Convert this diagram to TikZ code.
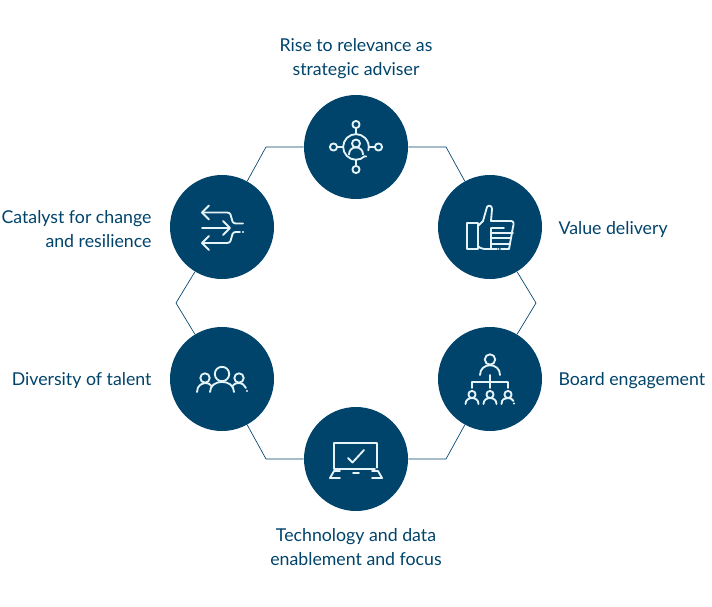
\documentclass[tikz,border=0pt]{standalone}
\usepackage{fontspec}
\setmainfont{Lato}
\usetikzlibrary{positioning}
\definecolor{stageblue}{HTML}{00436B}
\definecolor{iconline}{HTML}{E4F3F7}
\tikzset{
  stagenode/.style={circle,fill=stageblue,minimum size=78pt,inner sep=0pt},
  stagelabel/.style={text=stageblue,font=\fontsize{13.3}{17.5}\selectfont,inner sep=0pt},
  stageedge/.style={stageblue,line width=0.5pt},
  iconstroke/.style={iconline,line width=1.4pt,line cap=round,line join=round}
}
\begin{document}
\begin{tikzpicture}[x=0.75pt,y=-0.75pt]
  \useasboundingbox (0,0) rectangle (712,606);
  \node[stagenode] (rise) at (356,147) {};
  \node[stagenode] (value) at (490,227) {};
  \node[stagenode] (board) at (490,379) {};
  \node[stagenode] (tech) at (356,459) {};
  \node[stagenode] (diversity) at (222,379) {};
  \node[stagenode] (catalyst) at (222,227) {};
  \node[stagelabel,align=center,above=12pt of rise] (risetext) {Rise to relevance as\\strategic adviser};
  \node[stagelabel,right=12pt of value,yshift=-1.5pt] (valuetext) {Value delivery};
  \node[stagelabel,right=12pt of board,yshift=-1pt] (boardtext) {Board engagement};
  \node[stagelabel,align=center,below=13pt of tech] (techtext) {Technology and data\\enablement and focus};
  \node[stagelabel,left=13.5pt of diversity,yshift=-1pt] (diversitytext) {Diversity of talent};
  \node[stagelabel,align=right,left=13.5pt of catalyst,yshift=-1.5pt] (catalysttext) {Catalyst for change\\and resilience};
  \coordinate (bendnea) at (446,147);
  \coordinate (bendeast) at (536,303);
  \coordinate (bendsea) at (446,459);
  \coordinate (bendswa) at (266,459);
  \coordinate (bendwest) at (176,303);
  \coordinate (bendnwa) at (266,147);
  \draw[stageedge] (rise) -- (bendnea) -- (value);
  \draw[stageedge] (value) -- (bendeast) -- (board);
  \draw[stageedge] (board) -- (bendsea) -- (tech);
  \draw[stageedge] (tech) -- (bendswa) -- (diversity);
  \draw[stageedge] (diversity) -- (bendwest) -- (catalyst);
  \draw[stageedge] (catalyst) -- (bendnwa) -- (rise);
  % rise
  \begin{scope}[shift={(rise)},iconstroke]
    \draw (8.9,9.1) arc (45.7:375:12.8);
    \draw (0,-12.8) -- (0,-19) (0,12.8) -- (0,19) (-12.8,0) -- (-19,0) (12.8,0) -- (19,0);
    \foreach \dx/\dy in {0/-22.5,0/22.5,-22.5/0,22.5/0} \draw (\dx,\dy) circle (3.6);
    \draw (0,-3.5) circle (4);
    \draw (-7,7.5) .. controls (-7,-2) and (7,-2) .. (7,7.5);
    \fill[iconline] (10,9.5) circle (1.1);
  \end{scope}
  % catalyst
  \begin{scope}[shift={(catalyst)},iconstroke]
    \draw (-13,-21.5) -- (-20,-14.5) -- (-13,-7.5);
    \draw (-20,-14.5) -- (5,-14.5) .. controls (12,-14.5) and (7,-3.5) .. (14,-3.5) -- (21,-3.5);
    \draw (-20,1) -- (7.5,1);
    \draw (1,-6) -- (8,1) -- (1,8);
    \draw (-13,9) -- (-20,16) -- (-13,23);
    \draw (-20,16) -- (5,16) .. controls (12,16) and (7,5) .. (14,5) -- (18,5);
    \fill[iconline] (21,5) circle (1.1);
  \end{scope}
  % value
  \begin{scope}[shift={(value)},iconstroke]
    \draw (-23,-4) rectangle (-12,22);
    \draw (-12,-1) -- (-7,-6) -- (-3,-20) .. controls (-2,-22) and (2,-22) .. (2,-18) -- (1,-6) -- (21,-6)
      .. controls (24,-6) and (24,-3) .. (23,0) -- (21,11) -- (19,22) -- (11,22);
    \draw (7,22) -- (-6,22) .. controls (-9,22) and (-11,20) .. (-12,19);
    \draw (1,1) -- (14,1) (1,1) -- (1,22) (1,6) -- (23,6) (1,11) -- (21,11) (1,17) -- (20,17);
    \fill[iconline] (8.5,22) circle (1);
  \end{scope}
  % board
  \begin{scope}[shift={(board)},iconstroke]
    \draw (0,-19.5) circle (5.2);
    \draw (-10,-4) .. controls (-10,-17) and (10,-17) .. (10,-4);
    \draw (0,-4) -- (0,9) (-18,9) -- (-18,3) -- (18,3) -- (18,9);
    \foreach \dx in {-18,0} {
      \draw (\dx,15.5) circle (3.6);
      \draw (\dx-6.5,25) .. controls (\dx-6.5,17) and (\dx+6.5,17) .. (\dx+6.5,25);
    }
    \draw (18,15.5) circle (3.6);
    \draw (11.5,25) .. controls (11.5,20) and (15,19) .. (18,19) .. controls (20,19) and (23,20) .. (23.5,22);
    \fill[iconline] (24,24.5) circle (1.1);
  \end{scope}
  % tech
  \begin{scope}[shift={(tech)},iconstroke]
    \draw (21,8) -- (21,-16) -- (-22,-16) -- (-22,10) -- (19,10);
    \draw (-8,-1) -- (-3.5,3.5) -- (8,-9);
    \draw (-16,19) -- (-26,19) -- (-22,12) -- (-16,12);
    \draw (16,12) -- (22,12) -- (26,19) -- (16,19);
    \draw (-3,14) -- (3,14);
    \fill[iconline] (21,8.5) circle (1.1);
  \end{scope}
  % diversity
  \begin{scope}[shift={(diversity)},iconstroke]
    \draw (0,-5) circle (7.2);
    \draw (-12,13) .. controls (-12,-0.5) and (12,-0.5) .. (12,13);
    \draw (-17,-1) circle (4.7);
    \draw (-25,13) .. controls (-25,6.5) and (-20,4) .. (-16,4) .. controls (-14,4) and (-12,5) .. (-10.5,7);
    \draw (17,-1) circle (4.7);
    \draw (10.5,7) .. controls (12,5) and (14,4) .. (16,4) .. controls (20,4) and (23,6) .. (24,9);
    \fill[iconline] (25,12) circle (1.1);
  \end{scope}
\end{tikzpicture}
\end{document}
